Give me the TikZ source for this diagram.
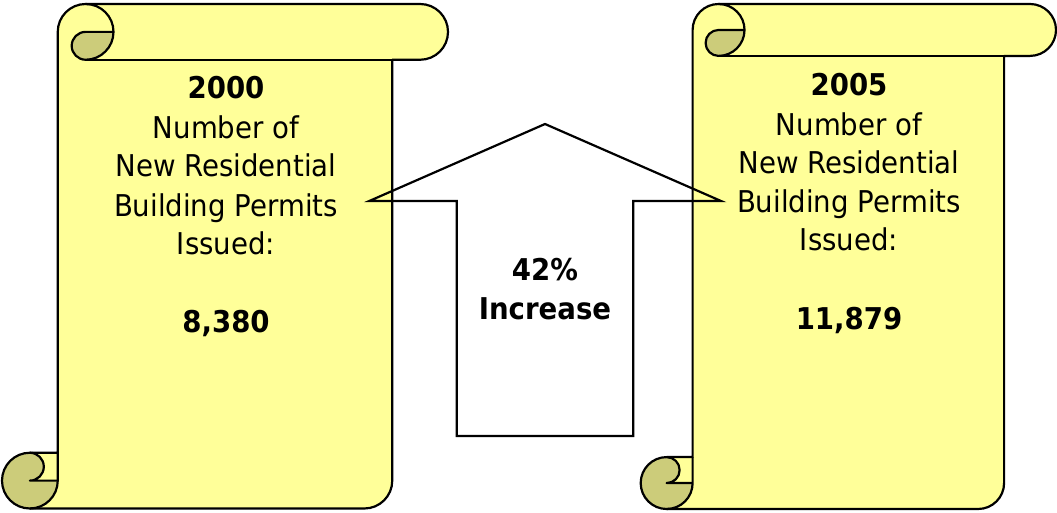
\documentclass[tikz,border=0pt]{standalone}
\usepackage{fontspec}
\setmainfont[FakeStretch=0.92]{DejaVu Sans}
\definecolor{scrollfill}{RGB}{255,255,153}
\definecolor{scrolldark}{RGB}{204,204,122}
\newcommand\myscroll[4]{%
  \pgfmathsetmacro\scL{#1}\pgfmathsetmacro\scT{#2}%
  \pgfmathsetmacro\scR{#3}\pgfmathsetmacro\scB{#4}%
  \pgfmathsetmacro\scH{0.125*min(#3-#1,#4-#2)}%
  \pgfmathsetmacro\scHh{\scH/2}\pgfmathsetmacro\scHq{\scH/4}%
  \pgfmathsetmacro\scYa{\scB-\scH}\pgfmathsetmacro\scYb{\scB-\scHh}%
  % yellow body
  \fill[scrollfill] ({\scL+\scHh},\scB) arc[start angle=90,delta angle=-90,radius=\scHh]
    -- ({\scL+\scHh},\scYb) arc[start angle=90,delta angle=-180,radius=\scHq]
    -- ({\scL+\scH},\scYa)
    -- ({\scL+\scH},{\scT+\scHh}) arc[start angle=180,delta angle=90,radius=\scHh]
    -- ({\scR-\scHh},\scT) arc[start angle=270,delta angle=180,radius=\scHh]
    -- ({\scR-\scH},{\scT+\scH}) -- ({\scR-\scH},\scYb)
    arc[start angle=0,delta angle=90,radius=\scHh] -- cycle;
  % dark curls
  \fill[scrolldark] ({\scL+2*\scH},{\scT+\scHh}) arc[start angle=0,delta angle=90,radius=\scHh]
    arc[start angle=90,delta angle=180,radius=\scHq] -- cycle;
  \fill[scrolldark] ({\scL+\scH},\scYb) arc[start angle=0,delta angle=270,radius=\scHh]
    arc[start angle=270,delta angle=180,radius=\scHq] -- cycle;
  % outlines
  \draw[scrollline] ({\scL+\scH},\scYa) -- ({\scL+\scH},{\scT+\scHh})
    arc[start angle=180,delta angle=90,radius=\scHh]
    -- ({\scR-\scHh},\scT) arc[start angle=270,delta angle=180,radius=\scHh]
    -- ({\scR-\scH},{\scT+\scH}) -- ({\scR-\scH},\scYb)
    arc[start angle=0,delta angle=90,radius=\scHh]
    -- ({\scL+\scHh},\scB) arc[start angle=90,delta angle=180,radius=\scHh] -- cycle;
  \draw[scrollline] ({\scL+\scH+\scHh},\scT) arc[start angle=270,delta angle=180,radius=\scHh]
    arc[start angle=90,delta angle=180,radius=\scHq] -- ({\scL+2*\scH},{\scT+\scHh});
  \draw[scrollline] ({\scR-\scH},{\scT+\scH}) -- ({\scL+\scH+\scHh},{\scT+\scH});
  \draw[scrollline] ({\scL+\scHh},\scYa) arc[start angle=270,delta angle=180,radius=\scHq]
    -- ({\scL+\scH},\scYb);
  \draw[scrollline] ({\scL+\scHh},\scB) arc[start angle=90,delta angle=-90,radius=\scHh]
    -- ({\scL+\scH},\scYa);
}
\tikzset{
  scrollline/.style={draw=black,line width=2.2pt,line join=round},
  txt/.style={anchor=base,inner sep=0pt,font=\fontsize{30}{38}\selectfont},
  btxt/.style={txt,font=\fontsize{30}{38}\selectfont\bfseries},
}
\begin{document}
\begin{tikzpicture}[x=1pt,y=-1pt]
\useasboundingbox (0,0) rectangle (1057,513);
\myscroll{2}{4}{448}{508.5}
\myscroll{640.7}{4}{1056}{509}
% arrow (no fill)
\coordinate (tip) at (545,124);
\draw[line width=2.2pt,line join=miter] (tip) -- (721,201) -- (633.3,201) -- (633.3,436)
  -- (456.7,436) -- (456.7,201) -- (369.3,201) -- cycle;
% left scroll text
\node[btxt] (l1) at (226,99) {2000};
\node[txt]  (l2) at (226,139) {Number of};
\node[txt]  (l3) at (226,177) {New Residential};
\node[txt]  (l4) at (226,216) {Building Permits};
\node[txt]  (l5) at (226,254) {Issued:};
\node[btxt] (l6) at (226,332) {8,380};
% right scroll text
\node[btxt] (r1) at (849,96) {2005};
\node[txt]  (r2) at (849,136) {Number of};
\node[txt]  (r3) at (849,174) {New Residential};
\node[txt]  (r4) at (849,213) {Building Permits};
\node[txt]  (r5) at (849,251) {Issued:};
\node[btxt] (r6) at (849,329) {11,879};
% arrow text
\node[btxt] (a1) at (545,280) {42\%};
\node[btxt] (a2) at (545,319) {Increase};
\end{tikzpicture}
\end{document}
